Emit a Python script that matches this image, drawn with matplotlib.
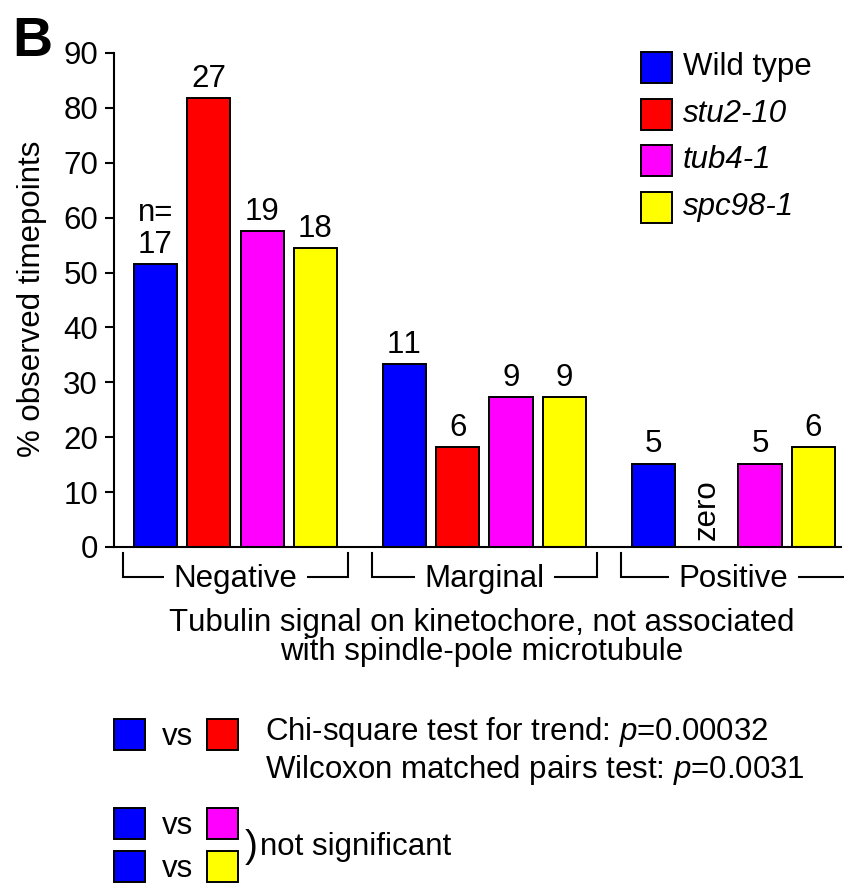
import matplotlib
matplotlib.use("Agg")
import matplotlib.pyplot as plt
from matplotlib.patches import Rectangle
import numpy as np

plt.rcParams['font.family'] = ['Liberation Sans', 'DejaVu Sans']
plt.rcParams['mathtext.fontset'] = 'custom'
plt.rcParams['mathtext.rm'] = 'Liberation Sans'
plt.rcParams['mathtext.it'] = 'Liberation Sans:italic'
# 关闭字距调整（"11" 否则挤在一起）
try:
    plt.rcParams['text.kerning_factor'] = 12
except (KeyError, ValueError):
    pass

# 数据
categories = ["Negative", "Marginal", "Positive"]
strains = ["Wild type", "stu2-10", "tub4-1", "spc98-1"]
colors = ["#0000ff", "#ff0000", "#ff00ff", "#ffff00"]

wt_pct = [51.5, 33.3, 15.2]
stu2_pct = [81.8, 18.2, 0.0]
tub4_pct = [57.6, 27.3, 15.2]
spc98_pct = [54.5, 27.3, 18.2]

wt_n = [17, 11, 5]
stu2_n = [27, 6, 0]
tub4_n = [19, 9, 5]
spc98_n = [18, 9, 6]

yticks = [0, 10, 20, 30, 40, 50, 60, 70, 80, 90]

W, H = 844, 885
FS = 22.5


def fx(x):
    return x / W


def fy(y):
    return 1 - y / H


def square(fig, x, y, color, size=31):
    fig.add_artist(Rectangle((fx(x), fy(y + size)), size / W, size / H,
                             transform=fig.transFigure, facecolor=color,
                             edgecolor='black', linewidth=1.4))


fig = plt.figure(figsize=(W / 100, H / 100), dpi=100)
ax = fig.add_axes([fx(114), fy(547), (841 - 114) / W, (547 - 53) / H])

pcts = [wt_pct, stu2_pct, tub4_pct, spc98_pct]
counts = [wt_n, stu2_n, tub4_n, spc98_n]
group_step = 4.67
for j, (vals, ns) in enumerate(zip(pcts, counts)):
    xs = np.arange(len(categories)) * group_step + j
    ax.bar(xs, vals, width=0.81, color=colors[j], edgecolor='black', linewidth=1.4)
    for x, v, n in zip(xs, vals, ns):
        if n == 0:
            ax.annotate("zero", (x, 0), xytext=(0, 5), textcoords='offset points',
                        rotation=90, ha='center', va='bottom', fontsize=FS)
        else:
            ax.annotate(str(n), (x, v), xytext=(0, 8), textcoords='offset points',
                        ha='center', va='baseline', fontsize=FS)
# n= 标注
ax.annotate("n=", (0, wt_pct[0]), xytext=(0, 31), textcoords='offset points',
            ha='center', va='baseline', fontsize=FS)

ax.set_xlim(-0.779, 12.86)
ax.set_ylim(0, 90)
ax.set_yticks(yticks)
ax.set_yticklabels([str(t) for t in yticks], fontsize=FS)
ax.set_xticks([])
ax.tick_params(axis='y', length=6.5, width=1.5, pad=5)
for s in ['top', 'right']:
    ax.spines[s].set_visible(False)
ax.spines['left'].set_linewidth(1.5)
ax.spines['bottom'].set_linewidth(1.5)

# 分组括号
for i, cat in enumerate(categories):
    c = i * group_step + 1.5
    l, r = c - 2.11, c + 2.11
    ax.plot([l, l, r, r], [-1.1, -5.5, -5.5, -1.1], color='black', lw=1.5,
            clip_on=False, solid_joinstyle='miter')
    ax.text(c, -7.2, cat, ha='center', va='baseline', fontsize=FS,
            bbox=dict(boxstyle='square,pad=0.3', facecolor='white', edgecolor='none'))

# 坐标轴标题
fig.text(fx(32), fy(299), "% observed timepoints", rotation=90, ha='center',
         va='center', fontsize=FS)
fig.text(fx(482), fy(631), "Tubulin signal on kinetochore, not associated",
         ha='center', va='baseline', fontsize=FS)
fig.text(fx(482), fy(660), "with spindle-pole microtubule",
         ha='center', va='baseline', fontsize=FS)
fig.text(fx(12), fy(56), "B", fontsize=40, fontweight='bold', va='baseline')

# 图例
for k, (name, col) in enumerate(zip(strains, colors)):
    top = 52 + k * 46.7
    square(fig, 641, top, col)
    fig.text(fx(683), fy(top + 23), name, fontsize=FS, va='baseline',
             style='normal' if k == 0 else 'italic')

# 统计检验
square(fig, 114, 719, colors[0])
fig.text(fx(162), fy(745), "vs", fontsize=FS, va='baseline')
square(fig, 207, 719, colors[1])
fig.text(fx(265), fy(740), "Chi-square test for trend: $p$=0.00032", fontsize=FS, va='baseline')
fig.text(fx(265), fy(778), "Wilcoxon matched pairs test: $p$=0.0031", fontsize=FS, va='baseline')

square(fig, 114, 808, colors[0])
fig.text(fx(162), fy(834), "vs", fontsize=FS, va='baseline')
square(fig, 207, 808, colors[2])
square(fig, 114, 851, colors[0])
fig.text(fx(162), fy(877), "vs", fontsize=FS, va='baseline')
square(fig, 207, 851, colors[3])
fig.text(fx(245), fy(857), ")", fontsize=28, va='baseline')
fig.text(fx(260), fy(855), "not significant", fontsize=FS, va='baseline')

fig.savefig("out.png", dpi=100, facecolor='white')
